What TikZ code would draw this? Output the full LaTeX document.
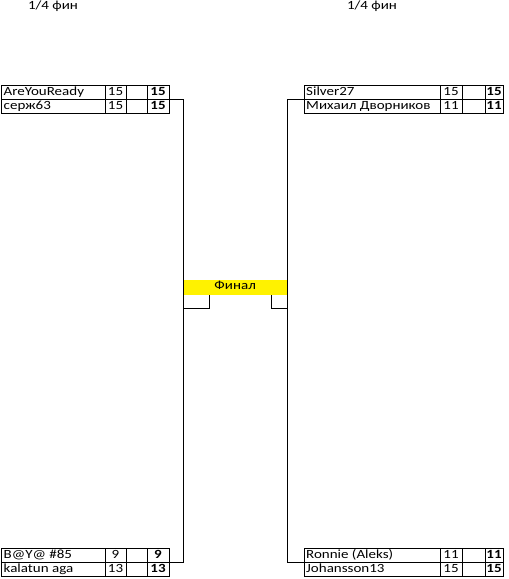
\documentclass[tikz,border=0pt]{standalone}
\usepackage{fontspec}
\setmainfont{Carlito}[FakeStretch=1.2]
\tikzset{
  grid/.style={draw=black,line width=0.9pt},
  conn/.style={draw=black,line width=0.9pt},
  nametxt/.style={font=\fontsize{12.5}{14}\selectfont,inner sep=0pt,anchor=base west},
  numtxt/.style={font=\fontsize{12.5}{14}\selectfont,inner sep=0pt,anchor=base},
  boldtxt/.style={font=\fontsize{12.5}{14}\selectfont\bfseries,inner sep=0pt,anchor=base},
  titletxt/.style={font=\fontsize{12.5}{14}\selectfont,inner sep=0pt,anchor=base},
  finalbox/.style={fill=yellow,draw=none,inner sep=0pt,minimum width=104pt,minimum height=15pt,
    text height=7pt,text depth=3pt,anchor=north west,font=\fontsize{12.5}{14}\selectfont}
}
\newcommand\mtab[6]{%
  \draw[grid] (\xa,#2) rectangle (\xe,#2+28);
  \draw[grid] (\xa,#2+14) coordinate (#1mw) -- (\xe,#2+14) coordinate (#1me);
  \foreach \xx in {\xb,\xc,\xd} \draw[grid] (\xx,#2) -- (\xx,#2+28);
  \node[nametxt] (#1n1) at ({\xa+2},{#2+10.5}) {#3};
  \node[numtxt]  (#1s1) at ({(\xb+\xc)/2},{#2+10.5}) {#4};
  \node[boldtxt] (#1b1) at ({(\xd+\xe)/2},{#2+10.5}) {#4};
  \node[nametxt] (#1n2) at ({\xa+2},{#2+24.5}) {#5};
  \node[numtxt]  (#1s2) at ({(\xb+\xc)/2},{#2+24.5}) {#6};
  \node[boldtxt] (#1b2) at ({(\xd+\xe)/2},{#2+24.5}) {#6};
}
\begin{document}
\begin{tikzpicture}[x=1pt,y=-1pt]
\useasboundingbox (0,0) rectangle (509,579);
% titles
\node[titletxt] (t1) at (53,9.5) {1/4 фин};
\node[titletxt] (t2) at (372,9.5) {1/4 фин};
% left tables
\def\xa{1.5}\def\xb{105}\def\xc{126}\def\xd{147}\def\xe{169}
\mtab{A}{85}{AreYouReady}{15}{серж63}{15}
\mtab{D}{548}{B@Y@ \#85}{9}{kalatun aga}{13}
% right tables
\def\xa{304}\def\xb{440}\def\xc{462}\def\xd{485}\def\xe{503}
\mtab{B}{85}{Silver27}{15}{Михаил Дворников}{11}
\mtab{E}{548}{Ronnie (Aleks)}{11}{Johansson13}{15}
% final
\node[finalbox] (final) at (183,280) {Финал};
% connectors
\draw[conn] (Ame) -- (Ame -| final.west) -- (Dme -| final.west) -- (Dme);
\draw[conn] (Bmw) -- (Bmw -| final.east) -- (Emw -| final.east) -- (Emw);
\draw[conn] ([xshift=26pt]final.south west) |- ([yshift=-13pt]final.south west);
\draw[conn] ([xshift=-16pt]final.south east) |- ([yshift=-13pt]final.south east);
\end{tikzpicture}
\end{document}
